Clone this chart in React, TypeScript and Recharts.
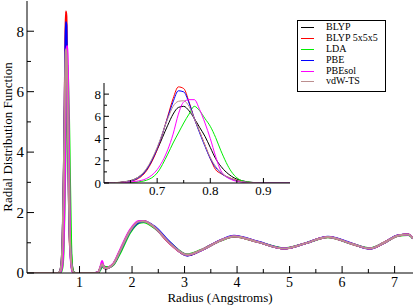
import { LineChart, Line, XAxis, YAxis, Legend } from "recharts";

// first-shell peak, sampled finely (also used for the inset)
const peakRadius = [0.6, 0.62, 0.64, 0.66, 0.68, 0.7, 0.72, 0.73, 0.74, 0.75, 0.76, 0.77, 0.78, 0.79, 0.8, 0.81, 0.82, 0.84, 0.86, 0.88, 0.9, 0.95];
const peakBlyp = [0, 0.03, 0.12, 0.4, 1.2, 3.0, 5.2, 6.2, 6.8, 6.9, 6.5, 5.8, 5.0, 4.2, 3.2, 2.2, 1.5, 0.6, 0.2, 0.05, 0.01, 0];
const peakBlyp555 = [0, 0.02, 0.1, 0.3, 1.1, 3.0, 6.0, 7.6, 8.65, 8.5, 7.3, 5.8, 4.6, 3.4, 2.2, 1.2, 0.85, 0.4, 0.12, 0.02, 0, 0];
const peakLda = [0, 0.01, 0.03, 0.08, 0.25, 0.9, 2.6, 3.6, 4.5, 5.4, 6.2, 6.9, 6.5, 5.8, 5.1, 4.1, 2.9, 1.0, 0.2, 0.04, 0.01, 0];
const peakPbe = [0, 0.02, 0.1, 0.35, 1.2, 3.1, 5.9, 7.3, 8.3, 8.2, 7.2, 5.8, 4.5, 3.3, 2.2, 1.4, 0.9, 0.35, 0.1, 0.02, 0, 0];
const peakPbesol = [0, 0.01, 0.05, 0.15, 0.4, 1.2, 3.0, 4.4, 6.2, 7.3, 7.5, 7.5, 6.6, 5.4, 4.0, 2.4, 1.1, 0.3, 0.08, 0.02, 0, 0];
const peakVdwts = [0, 0.03, 0.12, 0.4, 1.3, 3.2, 5.8, 6.9, 7.35, 7.4, 6.9, 5.8, 4.6, 3.4, 2.3, 1.5, 0.95, 0.4, 0.12, 0.03, 0, 0];

// rest of the rdf out to 7.35 A
const tailRadius = [1.3, 1.36, 1.4, 1.43, 1.46, 1.5, 1.58, 1.65, 1.78, 1.97, 2.13, 2.22, 2.42, 2.73, 3.05, 3.31, 3.69, 3.94, 4.39, 4.9, 5.3, 5.73, 6.18, 6.53, 6.8, 7.07, 7.26, 7.35];
const tailBlyp = [0, 0.03, 0.18, 0.31, 0.2, 0.15, 0.2, 0.31, 0.75, 1.41, 1.69, 1.7, 1.52, 0.97, 0.59, 0.75, 1.08, 1.22, 1.03, 0.81, 0.98, 1.19, 0.97, 0.81, 1.0, 1.24, 1.27, 1.15];
const tailBlyp555 = [0, 0.03, 0.18, 0.3, 0.2, 0.15, 0.2, 0.31, 0.76, 1.42, 1.7, 1.72, 1.52, 0.96, 0.59, 0.75, 1.08, 1.21, 1.03, 0.81, 0.98, 1.19, 0.97, 0.81, 1.0, 1.24, 1.27, 1.15];
const tailLda = [0, 0.02, 0.12, 0.2, 0.22, 0.2, 0.2, 0.28, 0.68, 1.35, 1.65, 1.68, 1.5, 0.99, 0.62, 0.76, 1.07, 1.21, 1.03, 0.82, 0.98, 1.18, 0.97, 0.82, 1.0, 1.23, 1.26, 1.14];
const tailPbe = [0, 0.03, 0.18, 0.3, 0.2, 0.15, 0.2, 0.31, 0.75, 1.4, 1.68, 1.71, 1.55, 1.0, 0.58, 0.74, 1.09, 1.23, 1.04, 0.81, 0.98, 1.2, 0.98, 0.8, 1.0, 1.25, 1.27, 1.15];
const tailPbesol = [0, 0.04, 0.22, 0.4, 0.22, 0.16, 0.21, 0.33, 0.8, 1.45, 1.72, 1.72, 1.52, 0.96, 0.6, 0.75, 1.08, 1.22, 1.03, 0.81, 0.98, 1.19, 0.97, 0.81, 1.0, 1.24, 1.27, 1.15];
const tailVdwts = [0, 0.03, 0.2, 0.3, 0.2, 0.15, 0.2, 0.31, 0.76, 1.42, 1.7, 1.71, 1.53, 0.97, 0.6, 0.75, 1.08, 1.22, 1.03, 0.81, 0.98, 1.19, 0.97, 0.81, 1.0, 1.24, 1.27, 1.15];

const mainXTicks = [0.5, 1, 1.5, 2, 2.5, 3, 3.5, 4, 4.5, 5, 5.5, 6, 6.5, 7];
const mainYTicks = [0, 1, 2, 3, 4, 5, 6, 7, 8];
const insetXTicks = [0.65, 0.7, 0.75, 0.8, 0.85, 0.9];
const insetYTicks = [0, 1, 2, 3, 4, 5, 6, 7, 8];

const series = [
  { key: "blyp", name: "BLYP", color: "#000000", peak: peakBlyp, tail: tailBlyp },
  { key: "blyp555", name: "BLYP 5x5x5", color: "#ff0000", peak: peakBlyp555, tail: tailBlyp555 },
  { key: "lda", name: "LDA", color: "#00ee00", peak: peakLda, tail: tailLda },
  { key: "pbe", name: "PBE", color: "#0000ff", peak: peakPbe, tail: tailPbe },
  { key: "pbesol", name: "PBEsol", color: "#ff00ff", peak: peakPbesol, tail: tailPbesol },
  { key: "vdwts", name: "vdW-TS", color: "#bc8f8f", peak: peakVdwts, tail: tailVdwts },
];

const mainRadius = [0, ...peakRadius, ...tailRadius];
const mainRows = mainRadius.map((r, i) => {
  const row: Record<string, number> = { r };
  series.forEach((s) => {
    row[s.key] = [0, ...s.peak, ...s.tail][i];
  });
  return row;
});
const insetRows = peakRadius.map((r, i) => {
  const row: Record<string, number> = { r };
  series.forEach((s) => {
    row[s.key] = s.peak[i];
  });
  return row;
});

const FONT = "'Liberation Serif', 'Times New Roman', serif";

type TickOpts = {
  side: "bottom" | "left" | "top" | "right";
  gap: number;
  major: number;
  minor: number;
  isMajor: (v: number) => boolean;
  showLabel?: boolean;
  fontSize?: number;
};

function makeTick(o: TickOpts) {
  return (props: any) => {
    const { x, y, payload } = props;
    const v = payload.value;
    const big = o.isMajor(v);
    const len = big ? o.major : o.minor;
    let line = null;
    let label = null;
    if (o.side === "bottom") {
      const ay = y - o.gap;
      line = <line x1={x} x2={x} y1={ay} y2={ay - len} stroke="#000" />;
      if (big && o.showLabel)
        label = (
          <text x={x} y={y} dy="0.71em" textAnchor="middle" fontSize={o.fontSize} fontFamily={FONT} fill="#000">
            {String(v)}
          </text>
        );
    } else if (o.side === "left") {
      const ax = x + o.gap;
      line = <line x1={ax} x2={ax + len} y1={y} y2={y} stroke="#000" />;
      if (big && o.showLabel)
        label = (
          <text x={x} y={y} dy="0.355em" textAnchor="end" fontSize={o.fontSize} fontFamily={FONT} fill="#000">
            {String(v)}
          </text>
        );
    } else if (o.side === "top") {
      const ay = y + o.gap;
      line = <line x1={x} x2={x} y1={ay} y2={ay + len} stroke="#000" />;
    } else {
      const ax = x - o.gap;
      line = <line x1={ax} x2={ax - len} y1={y} y2={y} stroke="#000" />;
    }
    return (
      <g>
        {line}
        {label}
      </g>
    );
  };
}

const isInt = (v: number) => Math.abs(v - Math.round(v)) < 1e-6;
const isEven = (v: number) => isInt(v) && Math.round(v) % 2 === 0;
const isTenth = (v: number) => Math.abs(v * 10 - Math.round(v * 10)) < 1e-6;

function XTitle({ viewBox }: any) {
  return (
    <text x={viewBox.x + viewBox.width / 2} y={viewBox.y + 29} textAnchor="middle" fontSize={13} fontFamily={FONT} fill="#000">
      Radius (Angstroms)
    </text>
  );
}

function YTitle({ viewBox }: any) {
  const cx = viewBox.x + 11.5;
  const cy = viewBox.y + viewBox.height / 2;
  return (
    <text x={cx} y={cy} transform={`rotate(-90, ${cx}, ${cy})`} textAnchor="middle" fontSize={13} fontFamily={FONT} fill="#000">
      Radial Distribution Function
    </text>
  );
}

function LegendBox({ payload }: any) {
  return (
    <div
      style={{
        border: "1px solid #000",
        background: "#fff",
        padding: "1px 3px 4px 3px",
        fontFamily: FONT,
        fontSize: 10,
        lineHeight: "10.9px",
        boxSizing: "border-box",
        width: 89,
      }}
    >
      {(payload || []).map((p: any) => (
        <div key={p.value} style={{ display: "flex", alignItems: "center", height: 10.9, whiteSpace: "nowrap" }}>
          <span style={{ display: "inline-block", width: 13, borderTop: `1.5px solid ${p.color}`, marginRight: 12 }} />
          <span>{p.value}</span>
        </div>
      ))}
    </div>
  );
}

export default function App() {
  return (
    <div style={{ position: "absolute", left: 0, top: 0, width: 415, height: 305, background: "#fff" }}>
      <LineChart width={415} height={305} data={mainRows} margin={{ top: 1, right: 2, bottom: 0, left: 0 }}>
        <XAxis
          dataKey="r"
          type="number"
          domain={[0, 7.35]}
          allowDataOverflow
          ticks={mainXTicks}
          interval={0}
          height={32}
          tickSize={0}
          tickMargin={4}
          tickLine={false}
          stroke="#000"
          tick={makeTick({ side: "bottom", gap: 4, major: 7, minor: 4, isMajor: isInt, showLabel: true, fontSize: 14 })}
          label={<XTitle />}
        />
        <XAxis
          xAxisId="top"
          orientation="top"
          dataKey="r"
          type="number"
          domain={[0, 7.35]}
          allowDataOverflow
          ticks={mainXTicks}
          interval={0}
          height={0}
          tickSize={0}
          tickMargin={0}
          tickLine={false}
          stroke="#000"
          tick={makeTick({ side: "top", gap: 0, major: 7, minor: 4, isMajor: isInt })}
        />
        <YAxis
          type="number"
          domain={[0, 9]}
          allowDataOverflow
          ticks={mainYTicks}
          interval={0}
          width={27}
          tickSize={0}
          tickMargin={3}
          tickLine={false}
          stroke="#000"
          tick={makeTick({ side: "left", gap: 3, major: 7, minor: 4, isMajor: isEven, showLabel: true, fontSize: 15 })}
          label={<YTitle />}
        />
        <YAxis
          yAxisId="right"
          orientation="right"
          type="number"
          domain={[0, 9]}
          allowDataOverflow
          ticks={mainYTicks}
          interval={0}
          width={0}
          tickSize={0}
          tickMargin={0}
          tickLine={false}
          stroke="#000"
          tick={makeTick({ side: "right", gap: 0, major: 7, minor: 4, isMajor: isEven })}
        />
        <Legend
          layout="horizontal"
          verticalAlign="middle"
          align="center"
          content={<LegendBox />}
          wrapperStyle={{ left: 297, top: 20, width: 89, height: 72 }}
        />
        {series.map((s) => (
          <Line
            key={s.key}
            type="monotone"
            dataKey={s.key}
            name={s.name}
            stroke={s.color}
            strokeWidth={2}
            dot={false}
            isAnimationActive={false}
          />
        ))}
      </LineChart>
      <div style={{ position: "absolute", left: 80, top: 80 }}>
        <LineChart width={212} height={120} data={insetRows} margin={{ top: 3, right: 2, bottom: 0, left: 0 }}>
          <XAxis
            dataKey="r"
            type="number"
            domain={[0.6, 0.95]}
            allowDataOverflow
            ticks={insetXTicks}
            interval={0}
            height={17}
            tickSize={0}
            tickMargin={3}
            tickLine={false}
            stroke="#000"
            tick={makeTick({ side: "bottom", gap: 3, major: 5, minor: 3, isMajor: isTenth, showLabel: true, fontSize: 13 })}
          />
          <XAxis
            xAxisId="top"
            orientation="top"
            dataKey="r"
            type="number"
            domain={[0.6, 0.95]}
            allowDataOverflow
            ticks={insetXTicks}
            interval={0}
            height={0}
            tickSize={0}
            tickMargin={0}
            tickLine={false}
            stroke="#000"
            tick={makeTick({ side: "top", gap: 0, major: 5, minor: 3, isMajor: isTenth })}
          />
          <YAxis
            type="number"
            domain={[0, 9]}
            allowDataOverflow
            ticks={insetYTicks}
            interval={0}
            width={24}
            tickSize={0}
            tickMargin={3}
            tickLine={false}
            stroke="#000"
            tick={makeTick({ side: "left", gap: 3, major: 5, minor: 3, isMajor: isEven, showLabel: true, fontSize: 13 })}
          />
          <YAxis
            yAxisId="right"
            orientation="right"
            type="number"
            domain={[0, 9]}
            allowDataOverflow
            ticks={insetYTicks}
            interval={0}
            width={0}
            tickSize={0}
            tickMargin={0}
            tickLine={false}
            stroke="#000"
            tick={makeTick({ side: "right", gap: 0, major: 5, minor: 3, isMajor: isEven })}
          />
          {series.map((s) => (
            <Line
              key={s.key}
              type="monotone"
              dataKey={s.key}
              name={s.name}
              stroke={s.color}
              strokeWidth={1}
              dot={false}
              isAnimationActive={false}
            />
          ))}
        </LineChart>
      </div>
    </div>
  );
}
